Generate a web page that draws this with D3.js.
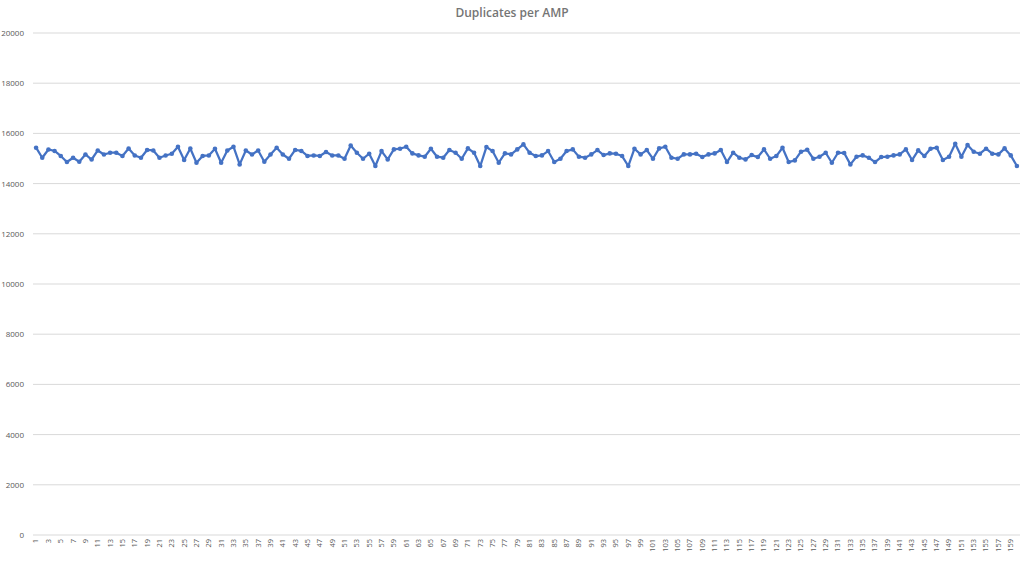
<!DOCTYPE html>
<html><head><meta charset="utf-8">
<script src="https://cdn.jsdelivr.net/npm/d3@7/dist/d3.min.js"></script>
<style>body{margin:0;background:#fff;}svg{display:block;}</style>
</head><body>
<svg id="c" width="1024" height="562"></svg>
<script>
const title = "Duplicates per AMP";
const amps = d3.range(1, 161);
const duplicates = [
15430,15030,15360,15300,15100,14860,15030,14870,15160,14960,
15320,15160,15230,15230,15100,15400,15120,15030,15340,15320,
15030,15120,15190,15470,14940,15400,14830,15100,15120,15390,
14830,15320,15470,14765,15320,15160,15320,14870,15160,15430,
15160,14990,15340,15300,15100,15120,15100,15260,15120,15120,
14990,15520,15230,14990,15190,14700,15296,14964,15363,15390,
15470,15203,15124,15071,15390,15071,15031,15336,15230,14990,
15402,15230,14700,15456,15296,14831,15203,15164,15363,15562,
15230,15097,15124,15296,14858,14990,15296,15363,15071,15031,
15164,15336,15137,15203,15190,15097,14700,15390,15164,15336,
14990,15402,15469,15031,14990,15164,15164,15190,15057,15164,
15203,15336,14858,15230,15031,14964,15137,15057,15363,14990,
15097,15429,14858,14924,15270,15349,14990,15071,15230,14831,
15230,15217,14765,15071,15124,15031,14858,15057,15071,15124,
15164,15363,14938,15323,15097,15390,15429,14938,15071,15588,
15071,15535,15270,15190,15390,15190,15164,15402,15124,14700
];
const yTicks = [0,2000,4000,6000,8000,10000,12000,14000,16000,18000,20000];

const svg = d3.select("#c");
const L = 33, R = 1020, T = 33, B = 535;
const x = d3.scaleBand().domain(amps).range([L, R]);
const y = d3.scaleLinear().domain([0, 20000]).range([B, T]);

const font = "'Open Sans', 'Liberation Sans', Arial, sans-serif";

// gridlines
svg.append("g").selectAll("line").data(yTicks).join("line")
  .attr("x1", L).attr("x2", R)
  .attr("y1", d => y(d)).attr("y2", d => y(d))
  .attr("stroke", "#d9d9d9").attr("stroke-width", 1);

// y axis labels
const yAxis = d3.axisLeft(y).tickValues(yTicks).tickSize(0).tickPadding(9).tickFormat(d3.format("d"));
const ga = svg.append("g").attr("transform", `translate(${L},0)`).call(yAxis);
ga.select(".domain").remove();
ga.selectAll("text").attr("fill", "#595959").style("font-family", font).style("font-size", "8px");

// x axis labels
const xAxis = d3.axisBottom(x).tickValues(amps.filter(d => d % 2 === 1)).tickSize(0).tickPadding(0);
const gx = svg.append("g").attr("transform", `translate(0,${B})`).call(xAxis);
gx.select(".domain").remove();
gx.selectAll("text")
  .attr("fill", "#595959").style("font-family", font).style("font-size", "7.5px")
  .attr("transform", "rotate(-90)")
  .attr("text-anchor", "end").attr("dy", "0.32em").attr("x", -4).attr("y", 0);

// line
const cx = d => x(d) + x.bandwidth() / 2;
const line = d3.line().x((d, i) => cx(amps[i])).y(d => y(d));
svg.append("path").datum(duplicates).attr("d", line)
  .attr("fill", "none").attr("stroke", "#4472C4").attr("stroke-width", 2.25)
  .attr("stroke-linejoin", "round");
svg.append("g").selectAll("circle").data(duplicates).join("circle")
  .attr("cx", (d, i) => cx(amps[i])).attr("cy", d => y(d)).attr("r", 2.3)
  .attr("fill", "#4472C4");

// title
svg.append("text").attr("x", 512).attr("y", 17).attr("text-anchor", "middle")
  .attr("fill", "#757575").style("font-family", font).style("font-size", "12px")
  .style("font-weight", "600")
  .text(title);
</script>
</body></html>
